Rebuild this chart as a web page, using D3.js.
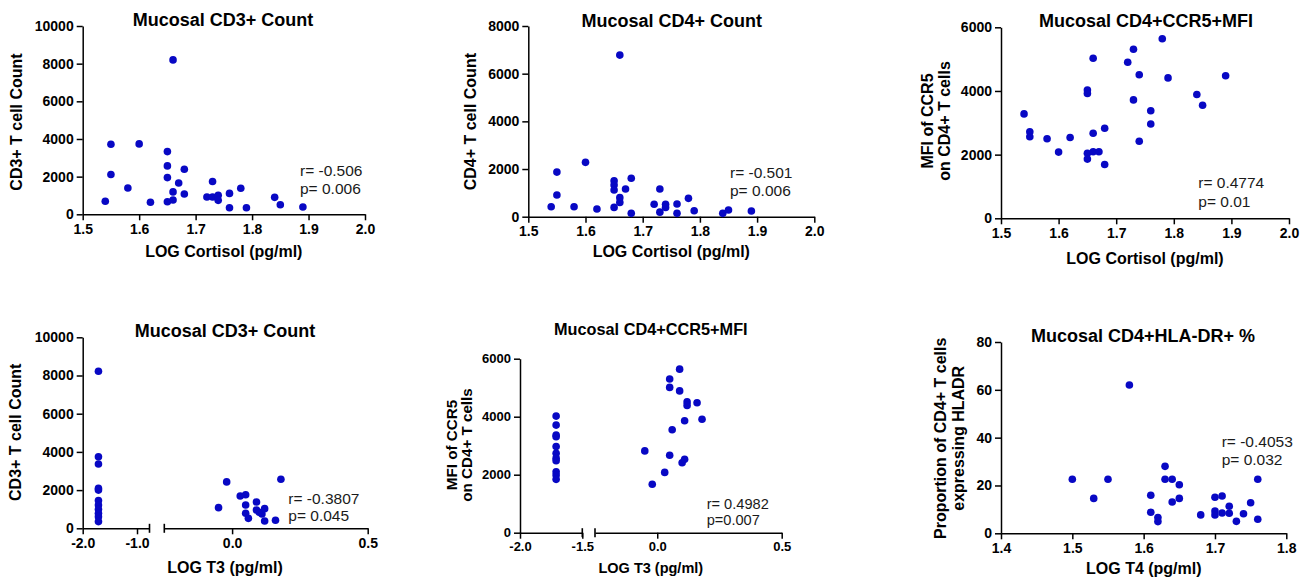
<!DOCTYPE html>
<html>
<head>
<meta charset="utf-8">
<script src="https://cdn.jsdelivr.net/npm/d3@7"></script>
<style>
  html, body { margin: 0; padding: 0; background: #fff; }
  svg { display: block; font-family: "Liberation Sans", Arial, sans-serif; }
</style>
</head>
<body>
<svg id="chart" width="1316" height="581"></svg>
<script>
// ---- data ----
// top row: LOG cortisol (same 28 subjects in each panel)
const cortisolX = [1.54, 1.55, 1.55, 1.58, 1.60, 1.62, 1.65, 1.65, 1.65, 1.65, 1.66, 1.66, 1.66, 1.67,
                   1.68, 1.68, 1.72, 1.73, 1.73, 1.74, 1.74, 1.76, 1.76, 1.78, 1.79, 1.84, 1.85, 1.89];
const cortisolCd3 = [690, 3720, 2110, 1400, 3740, 640, 3330, 2570, 1950, 670, 8200, 1190, 760, 1660,
                     2390, 1080, 920, 1740, 920, 1010, 740, 1110, 350, 1380, 350, 900, 510, 390];
const cortisolCd4 = [420, 1870, 910, 420, 2280, 320, 1510, 1330, 1120, 390, 6780, 800, 600, 1160,
                     1610, 140, 520, 1160, 190, 520, 390, 530, 140, 770, 250, 140, 280, 240];
const cortisolCcr5 = [3280, 2720, 2560, 2500, 2080, 2540, 4030, 3920, 2040, 1860, 5030, 2670, 2090, 2090,
                      2830, 1690, 4900, 5310, 3720, 4510, 2420, 3380, 2960, 5640, 4410, 3890, 3550, 4480];

// bottom row: LOG T3 (broken axis) and LOG T4
const t3Cd3X = [-1.71, -1.71, -1.71, -1.71, -1.71, -1.71, -1.71, -1.71, -1.71, -1.71, -1.71,
                -0.05, -0.02, 0.03, 0.05, 0.05, 0.05, 0.06, 0.09, 0.09, 0.10, 0.11, 0.12, 0.12, 0.16, 0.18];
const t3Cd3Y = [8220, 3750, 3370, 2090, 2000, 1450, 1220, 1000, 790, 610, 350,
                1080, 2430, 1690, 1760, 1220, 790, 520, 1380, 960, 840, 750, 1030, 380, 420, 2570];
const t3Ccr5X = [-1.71, -1.71, -1.71, -1.71, -1.71, -1.71, -1.71, -1.71, -1.71, -1.71, -1.71,
                 -0.05, -0.02, 0.03, 0.05, 0.05, 0.05, 0.06, 0.09, 0.09, 0.10, 0.11, 0.11, 0.12, 0.12, 0.16, 0.18];
const t3Ccr5Y = [4020, 3710, 3370, 3310, 2970, 2740, 2570, 2480, 2100, 1990, 1840,
                 2820, 1670, 2080, 5300, 5010, 2670, 3550, 5640, 4890, 2410, 3860, 2530, 4510, 4390, 4480, 3910];
const t4X = [1.50, 1.53, 1.55, 1.58, 1.61, 1.61, 1.62, 1.62, 1.63, 1.63, 1.64, 1.64, 1.65, 1.65,
             1.68, 1.70, 1.70, 1.70, 1.71, 1.71, 1.72, 1.72, 1.73, 1.74, 1.75, 1.76, 1.76];
const t4Hladr = [22.6, 14.6, 22.6, 62, 15.9, 8.8, 6.6, 4.9, 28, 22.6, 22.6, 13.1, 20.3, 14.6,
                 7.7, 15.1, 9.3, 7.7, 15.6, 8.5, 11.3, 8.4, 5.0, 8.2, 12.8, 22.6, 5.9];

// tick values
const cortisolTicks = [1.5, 1.6, 1.7, 1.8, 1.9, 2.0];
const t4Ticks = [1.4, 1.5, 1.6, 1.7, 1.8];
const t3LowTicksA = [-2.0, -1.0];
const t3LowTicksB = [-2.0, -1.5];
const t3HighTicks = [0.0, 0.5];
const countTicks10k = [0, 2000, 4000, 6000, 8000, 10000];
const countTicks8k = [0, 2000, 4000, 6000, 8000];
const mfiTicks = [0, 2000, 4000, 6000];
const pctTicks = [0, 20, 40, 60, 80];

const dotColor = "#0808c4";

class ScatterPanel {
    constructor(svg, o) {
        this.svg = svg;
        this.o = o;
    }

    draw(xs, ys) {
        const o = this.o;
        const g = this.svg.append("g");
        const fs = o.fs || {};
        const tickFs = fs.tick || 14;

        const y = d3.scaleLinear().domain(o.yDomain).range([o.bottom, o.top]);
        const segs = o.segments.map(s => ({
            scale: d3.scaleLinear().domain(s.domain).range(s.range),
            ticks: s.ticks, domain: s.domain
        }));
        const xOf = v => {
            const s = segs.find(s => v >= s.domain[0] - 1e-9 && v <= s.domain[1] + 1e-9) || segs[segs.length - 1];
            return s.scale(v);
        };

        // y axis
        const yAxis = g.append("g")
            .attr("transform", `translate(${o.segments[0].range[0]},0)`)
            .call(d3.axisLeft(y).tickValues(o.yTicks).tickSize(6).tickSizeOuter(0).tickPadding(3).tickFormat(d3.format("d")));

        // x axis, one piece per segment
        segs.forEach((s, i) => {
            const ax = g.append("g")
                .attr("transform", `translate(0,${o.bottom})`)
                .call(d3.axisBottom(s.scale).tickValues(s.ticks).tickSize(6).tickSizeOuter(0).tickPadding(3)
                    .tickFormat(d => d.toFixed(1)));
            ax.selectAll("text").attr("dy", "0.75em");
            // break marks at the inner ends
            const r = s.scale.range();
            if (i > 0) g.append("line").attr("class", "brk").attr("x1", r[0]).attr("x2", r[0]);
            if (i < segs.length - 1) g.append("line").attr("class", "brk").attr("x1", r[1]).attr("x2", r[1]);
        });
        g.selectAll("line.brk")
            .attr("y1", o.bottom - 4.5).attr("y2", o.bottom + 4.5)
            .attr("stroke", "#000").attr("stroke-width", 1.6);

        g.selectAll(".domain, .tick line").attr("stroke", "#000").attr("stroke-width", 1.5);
        g.selectAll(".tick text")
            .attr("fill", "#000")
            .attr("font-family", "'Liberation Sans', Arial, sans-serif")
            .attr("font-weight", "bold")
            .attr("font-size", tickFs);

        // points
        g.append("g").selectAll("circle")
            .data(xs.map((x, i) => [x, ys[i]]))
            .join("circle")
            .attr("cx", d => xOf(d[0]))
            .attr("cy", d => y(d[1]))
            .attr("r", 3.8)
            .attr("fill", dotColor);

        // title
        g.append("text")
            .attr("x", o.title.x).attr("y", o.title.y)
            .attr("text-anchor", "middle").attr("dominant-baseline", "central")
            .attr("font-weight", "bold").attr("font-size", fs.title || 18)
            .text(o.title.text);

        // x title
        g.append("text")
            .attr("x", o.xTitle.x).attr("y", o.xTitle.y)
            .attr("text-anchor", "middle").attr("dominant-baseline", "central")
            .attr("font-weight", "bold").attr("font-size", fs.xTitle || 16)
            .text(o.xTitle.text);

        // y title (one or two lines, rotated)
        o.yTitle.lines.forEach((t, i) => {
            g.append("text")
                .attr("transform", `translate(${o.yTitle.xs[i]},${o.yTitle.y}) rotate(-90)`)
                .attr("text-anchor", "middle").attr("dominant-baseline", "central")
                .attr("font-weight", "bold").attr("font-size", fs.yTitle || 16)
                .text(t);
        });

        // r / p annotation
        o.stats.lines.forEach((t, i) => {
            g.append("text")
                .attr("x", o.stats.x).attr("y", o.stats.ys[i])
                .attr("dominant-baseline", "central")
                .attr("fill", "#1a1a1a")
                .attr("font-size", fs.stats || 15.5)
                .text(t);
        });
    }
}

const svg = d3.select("#chart");

new ScatterPanel(svg, {
    segments: [{ domain: [1.5, 2.0], range: [82.7, 365], ticks: cortisolTicks }],
    yDomain: [0, 10000], top: 26, bottom: 214.3, yTicks: countTicks10k,
    title: { text: "Mucosal CD3+ Count", x: 223, y: 20 },
    xTitle: { text: "LOG Cortisol (pg/ml)", x: 223.8, y: 251 },
    yTitle: { lines: ["CD3+ T cell Count"], xs: [16.5], y: 122 },
    stats: { lines: ["r= -0.506", "p= 0.006"], x: 300, ys: [170.7, 188.3] }
}).draw(cortisolX, cortisolCd3);

new ScatterPanel(svg, {
    segments: [{ domain: [1.5, 2.0], range: [528.3, 814.3], ticks: cortisolTicks }],
    yDomain: [0, 8000], top: 26, bottom: 216.7, yTicks: countTicks8k,
    title: { text: "Mucosal CD4+ Count", x: 671.7, y: 20.7 },
    xTitle: { text: "LOG Cortisol (pg/ml)", x: 671.3, y: 251 },
    yTitle: { lines: ["CD4+ T cell Count"], xs: [470.4], y: 121.7 },
    stats: { lines: ["r= -0.501", "p= 0.006"], x: 730, ys: [172.3, 190] }
}).draw(cortisolX, cortisolCd4);

new ScatterPanel(svg, {
    segments: [{ domain: [1.5, 2.0], range: [1001, 1289], ticks: cortisolTicks }],
    yDomain: [0, 6000], top: 27.3, bottom: 218.3, yTicks: mfiTicks,
    title: { text: "Mucosal CD4+CCR5+MFI", x: 1146, y: 21 },
    xTitle: { text: "LOG Cortisol (pg/ml)", x: 1145, y: 258 },
    yTitle: { lines: ["MFI of CCR5", "on CD4+ T cells"], xs: [927.5, 944], y: 121 },
    stats: { lines: ["r= 0.4774", "p= 0.01"], x: 1198.3, ys: [182.7, 201.7] }
}).draw(cortisolX, cortisolCcr5);

new ScatterPanel(svg, {
    segments: [
        { domain: [-2.0, -0.77], range: [82.7, 149.5], ticks: t3LowTicksA },
        { domain: [-0.25, 0.5], range: [164.3, 367.7], ticks: t3HighTicks }
    ],
    yDomain: [0, 10000], top: 337.3, bottom: 528.3, yTicks: countTicks10k,
    title: { text: "Mucosal CD3+ Count", x: 225, y: 330.7 },
    xTitle: { text: "LOG T3 (pg/ml)", x: 225, y: 567 },
    yTitle: { lines: ["CD3+ T cell Count"], xs: [15], y: 432.3 },
    stats: { lines: ["r= -0.3807", "p= 0.045"], x: 288.3, ys: [498.3, 515] }
}).draw(t3Cd3X, t3Cd3Y);

new ScatterPanel(svg, {
    segments: [
        { domain: [-2.0, -1.5], range: [520, 582.3], ticks: t3LowTicksB },
        { domain: [-0.25, 0.5], range: [595, 781.7], ticks: t3HighTicks }
    ],
    yDomain: [0, 6000], top: 358.7, bottom: 532.7, yTicks: mfiTicks,
    fs: { tick: 13, title: 16.3, xTitle: 14.5, yTitle: 15.2, stats: 14.6 },
    title: { text: "Mucosal CD4+CCR5+MFI", x: 650.8, y: 329.3 },
    xTitle: { text: "LOG T3 (pg/ml)", x: 650.8, y: 568 },
    yTitle: { lines: ["MFI of CCR5", "on CD4+ T cells"], xs: [451.7, 466.7], y: 445 },
    stats: { lines: ["r= 0.4982", "p=0.007"], x: 706.7, ys: [504, 520] }
}).draw(t3Ccr5X, t3Ccr5Y);

new ScatterPanel(svg, {
    segments: [{ domain: [1.4, 1.8], range: [1001, 1286.3], ticks: t4Ticks }],
    yDomain: [0, 80], top: 342, bottom: 533.3, yTicks: pctTicks,
    title: { text: "Mucosal CD4+HLA-DR+ %", x: 1143, y: 336 },
    xTitle: { text: "LOG T4 (pg/ml)", x: 1143.8, y: 568 },
    yTitle: { lines: ["Proportion of CD4+ T cells", "expressing HLADR"], xs: [940, 958.3], y: 438.3 },
    stats: { lines: ["r= -0.4053", "p= 0.032"], x: 1221.7, ys: [441, 459] }
}).draw(t4X, t4Hladr);
</script>
</body>
</html>
